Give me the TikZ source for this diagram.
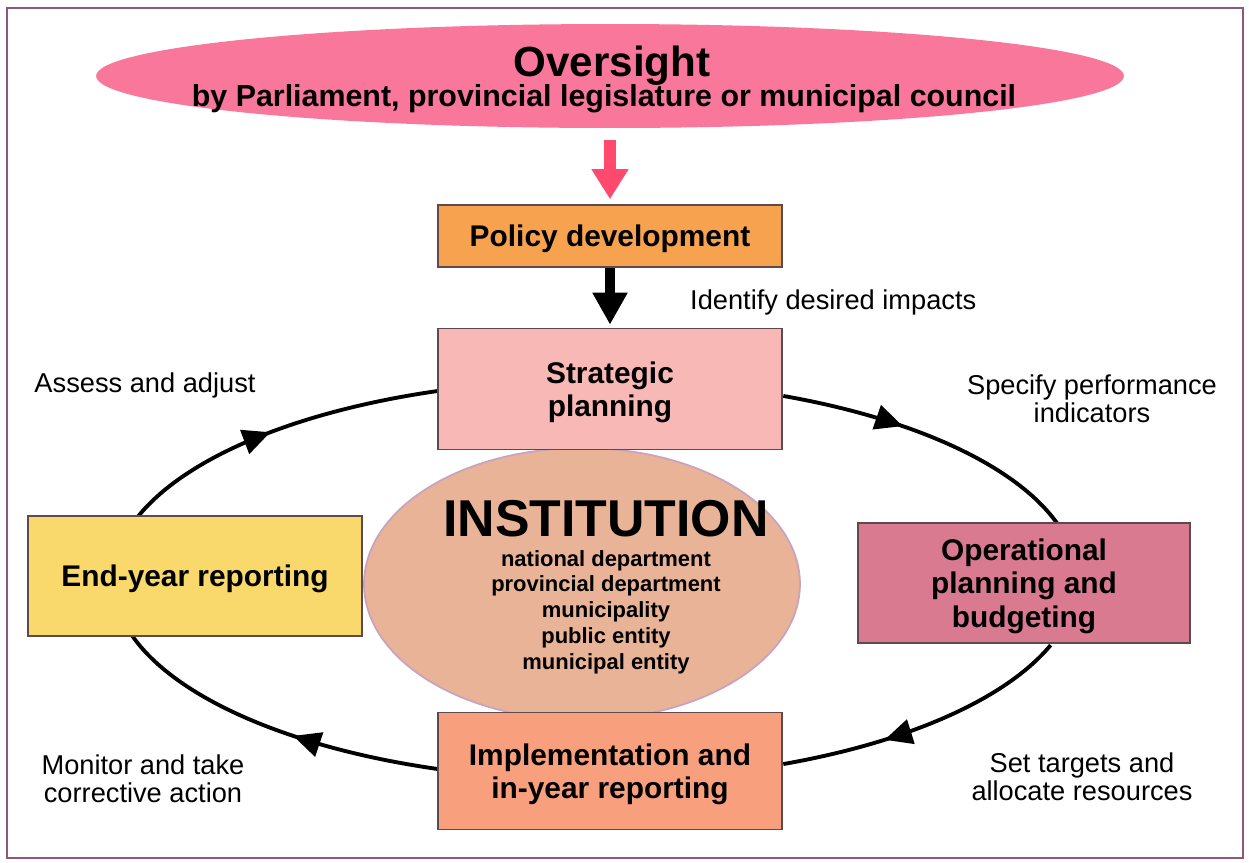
\documentclass[tikz,border=0pt]{standalone}
\usepackage{fontspec}
\setmainfont{Liberation Sans}
\usetikzlibrary{arrows.meta,decorations.markings,shapes.geometric}
\definecolor{framecol}{HTML}{8E5878}
\definecolor{overpink}{HTML}{F9779A}
\definecolor{overarrow}{HTML}{FF4A6E}
\definecolor{boxline}{HTML}{5C4A4E}
\definecolor{policyfill}{HTML}{F7A24E}
\definecolor{stratfill}{HTML}{F8B8B6}
\definecolor{endfill}{HTML}{F9D96B}
\definecolor{operfill}{HTML}{D97A90}
\definecolor{implfill}{HTML}{F8A07E}
\definecolor{instfill}{HTML}{E9B398}
\definecolor{instline}{HTML}{C7A3BE}

\begin{document}
\begin{tikzpicture}[x=0.02cm,y=-0.02cm,
  box/.style={draw=boxline,line width=0.9pt,inner sep=0pt,align=center,font=\fontsize{17}{19}\selectfont\bfseries,text depth=-6.6pt},
  note/.style={align=center,font=\fontsize{15.5}{16}\selectfont},
  loopline/.style={line width=2.2pt,postaction={decorate},decoration={markings,mark=at position #1 with {\arrow{Triangle[length=0.55cm,width=0.5cm]}}}}]
			\useasboundingbox (0,0) rectangle (1249,863);
			\draw[framecol,line width=1.2pt] (7,8) rectangle (1243,858);
			\coordinate (cyc) at (595,580);
			\draw[loopline=0.4] ([shift={(67:9.64cm and 4cm)}]cyc) arc[start angle=67,end angle=16.5,x radius=9.64cm,y radius=4cm];
			\draw[loopline=0.65] ([shift={(-19:9.64cm and 4cm)}]cyc) arc[start angle=-19,end angle=-67,x radius=9.64cm,y radius=4cm];
			\draw[loopline=0.43] ([shift={(-109:9.64cm and 4cm)}]cyc) arc[start angle=-109,end angle=-165,x radius=9.64cm,y radius=4cm];
			\draw[loopline=0.5] ([shift={(165:9.64cm and 4cm)}]cyc) arc[start angle=165,end angle=109,x radius=9.64cm,y radius=4cm];
			\node[ellipse,fill=overpink,minimum width=20.56cm,minimum height=2.08cm,inner sep=0pt] (over) at (610,76) {};
			\node[font=\fontsize{24}{26}\selectfont\bfseries] (overtitle) at (612,66) {Oversight};
			\node[font=\fontsize{17.3}{19}\selectfont\bfseries] (oversub) at (604,99) {by Parliament, provincial legislature or municipal council};
			\node[ellipse,fill=instfill,draw=instline,line width=1pt,minimum width=8.72cm,minimum height=5.44cm,inner sep=0pt] (inst) at (582,584) {};
			\node[font=\fontsize{29.5}{32}\selectfont\bfseries] (insttitle) at (606,519) {INSTITUTION};
			\node[align=center,font=\fontsize{12.5}{14.7}\selectfont\bfseries] (instkinds) at (606,612) {national department\\provincial department\\municipality\\public entity\\municipal entity};
			\node[box,fill=policyfill,minimum width=6.88cm,minimum height=1.24cm] (policy) at (610,236) {Policy development};
			\node[box,fill=stratfill,minimum width=6.88cm,minimum height=2.42cm] (strat) at (610,389) {Strategic\\planning};
			\node[box,fill=endfill,minimum width=6.68cm,minimum height=2.4cm] (endyr) at (195,576) {End-year reporting};
			\node[box,fill=operfill,minimum width=6.64cm,minimum height=2.4cm] (oper) at (1024,583) {Operational\\planning and\\budgeting};
			\node[box,fill=implfill,minimum width=6.88cm,minimum height=2.34cm] (impl) at (610,771) {Implementation and\\in-year reporting};
			\draw[overarrow,line width=0.24cm,-{Triangle[length=0.6cm,width=0.7cm]},shorten <=0.24cm,shorten >=0.1cm] (over.south) -- (policy.north);
			\draw[black,line width=0.2cm,-{Triangle[length=0.64cm,width=0.66cm]},shorten >=0.06cm] (policy.south) -- (strat.north);
			\node[note,anchor=west] (impacts) at (684,302) {Identify desired impacts};
			\node[note] (assess) at (145,385) {Assess and adjust};
			\node[note] (specify) at (1092,399) {Specify performance\\indicators};
			\node[note] (monitor) at (143,779) {Monitor and take\\corrective action};
			\node[note] (targets) at (1082,777) {Set targets and\\allocate resources};
\end{tikzpicture}
\end{document}
